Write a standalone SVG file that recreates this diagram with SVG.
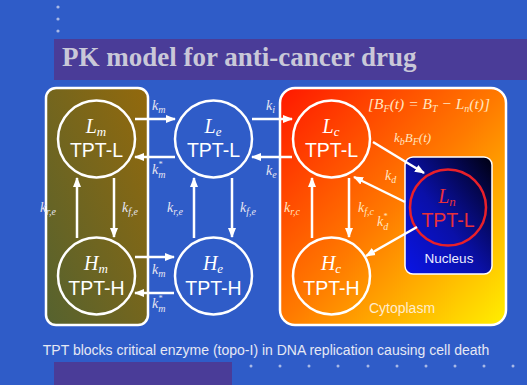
<svg xmlns="http://www.w3.org/2000/svg" width="527" height="385" viewBox="0 0 527 385">
<defs>
<linearGradient id="gOlive" x1="1" y1="0" x2="0" y2="1">
<stop offset="0" stop-color="#93690c"/>
<stop offset="1" stop-color="#55622f"/>
</linearGradient>
<linearGradient id="gCyto" x1="0" y1="0" x2="1" y2="1">
<stop offset="0" stop-color="#ff1800"/>
<stop offset="0.5" stop-color="#ff7a00"/>
<stop offset="1" stop-color="#fff000"/>
</linearGradient>
<linearGradient id="gNuc" x1="0" y1="1" x2="1" y2="0">
<stop offset="0" stop-color="#0a14e6"/>
<stop offset="0.45" stop-color="#0a10a8"/>
<stop offset="1" stop-color="#000010"/>
</linearGradient>
<marker id="ah" markerUnits="userSpaceOnUse" markerWidth="10" markerHeight="10" viewBox="0 0 10 10" refX="9" refY="5" orient="auto">
<path d="M0,1 L10,5 L0,9 Z" fill="#ffffff"/>
</marker>
<style>
.circ{fill:none;stroke:#ffffff;stroke-width:2.5}
.sym{font-family:"Liberation Serif",serif;font-style:italic;font-size:20px;fill:#ffffff;text-anchor:middle}
.tpt{font-family:"Liberation Sans",Arial,sans-serif;font-size:19.5px;fill:#ffffff;text-anchor:middle}
.lab{font-family:"Liberation Serif",serif;font-style:italic;font-size:14px;fill:#e6e6f2}
.labc{font-family:"Liberation Serif",serif;font-style:italic;font-size:14px;fill:#ffe6c0}
.sub{font-size:10px}
.sup{font-size:8px}
.arr{stroke:#ffffff;stroke-width:2.5;fill:none;marker-end:url(#ah)}
.dot{fill:#a9b9e6}
</style>
</defs>
<rect width="527" height="385" fill="#2f5cc8"/>
<circle class="dot" cx="58" cy="7" r="1.6"/>
<circle class="dot" cx="58" cy="19" r="1.6"/>
<circle class="dot" cx="58" cy="31" r="1.6"/>
<rect x="54" y="39" width="473" height="41" fill="#4a3c98"/>
<text x="62" y="66" font-family="Liberation Serif,serif" font-weight="bold" font-size="27" fill="#c9c8d8">PK model for anti-cancer drug</text>
<rect x="54" y="362" width="178" height="23" fill="#4a3c98"/>
<g>
<circle class="dot" cx="251" cy="366" r="1.5"/><circle class="dot" cx="280" cy="366" r="1.5"/><circle class="dot" cx="309" cy="366" r="1.5"/><circle class="dot" cx="338" cy="366" r="1.5"/><circle class="dot" cx="368" cy="366" r="1.5"/><circle class="dot" cx="397" cy="366" r="1.5"/><circle class="dot" cx="426" cy="366" r="1.5"/><circle class="dot" cx="455" cy="366" r="1.5"/><circle class="dot" cx="484" cy="366" r="1.5"/><circle class="dot" cx="513" cy="366" r="1.5"/>
</g>
<text x="266" y="355" font-family="Liberation Sans,Arial,sans-serif" font-size="14" fill="#e6e8f4" text-anchor="middle">TPT blocks critical enzyme (topo-I) in DNA replication causing cell death</text>

<g id="membrane">
<rect x="46" y="88" width="102" height="237" rx="10" fill="url(#gOlive)" stroke="#ffffff" stroke-width="2.5"/>
</g>
<g id="cytoplasm">
<rect x="280" y="88" width="226" height="237" rx="15" fill="url(#gCyto)" stroke="#ffffff" stroke-width="2.5"/>
<text x="402" y="313" font-family="Liberation Sans,Arial,sans-serif" font-size="14" fill="#ffeccc" text-anchor="middle">Cytoplasm</text>
<text x="368" y="109" class="labc" style="font-size:15.5px">[<tspan>B</tspan><tspan class="sub" dy="3">F</tspan><tspan dy="-3">(t) = B</tspan><tspan class="sub" dy="3">T</tspan><tspan dy="-3"> − L</tspan><tspan class="sub" dy="3">n</tspan><tspan dy="-3">(t)]</tspan></text>
</g>
<g id="nucleus">
<rect x="405" y="157" width="87" height="117" rx="8" fill="url(#gNuc)" stroke="#ffffff" stroke-width="1.5"/>
<text x="449" y="263" font-family="Liberation Sans,Arial,sans-serif" font-size="13.5" fill="#eeeeff" text-anchor="middle">Nucleus</text>
</g>

<g id="Lm">
<circle class="circ" cx="96.5" cy="139" r="38.5"/>
<text class="sym" x="96" y="133">L<tspan font-size="13" dy="3">m</tspan></text>
<text class="tpt" x="96.5" y="157">TPT-L</text>
</g>
<g id="Le">
<circle class="circ" cx="213.5" cy="139" r="38.5"/>
<text class="sym" x="213" y="133">L<tspan font-size="13" dy="3">e</tspan></text>
<text class="tpt" x="213.5" y="157">TPT-L</text>
</g>
<g id="Lc">
<circle class="circ" cx="331.5" cy="139" r="38.5"/>
<text class="sym" x="331" y="133">L<tspan font-size="13" dy="3">c</tspan></text>
<text class="tpt" x="331.5" y="157">TPT-L</text>
</g>
<g id="Hm">
<circle class="circ" cx="96.5" cy="276" r="38.5"/>
<text class="sym" x="96" y="270">H<tspan font-size="13" dy="3">m</tspan></text>
<text class="tpt" x="96.5" y="295">TPT-H</text>
</g>
<g id="He">
<circle class="circ" cx="213.5" cy="276" r="38.5"/>
<text class="sym" x="213" y="270">H<tspan font-size="13" dy="3">e</tspan></text>
<text class="tpt" x="213.5" y="295">TPT-H</text>
</g>
<g id="Hc">
<circle class="circ" cx="331.5" cy="276" r="38.5"/>
<text class="sym" x="331" y="270">H<tspan font-size="13" dy="3">c</tspan></text>
<text class="tpt" x="331.5" y="295">TPT-H</text>
</g>
<g id="Ln">
<circle cx="448" cy="207.5" r="38" fill="none" stroke="#e8202a" stroke-width="2.5"/>
<text class="sym" x="447" y="203" style="fill:#e8303a">L<tspan font-size="13" dy="3">n</tspan></text>
<text class="tpt" x="448" y="227" style="fill:#e8303a">TPT-L</text>
</g>

<g id="connectors">
<line class="arr" x1="135" y1="119" x2="175" y2="119"/>
<line class="arr" x1="175" y1="157" x2="135" y2="157"/>
<line class="arr" x1="252" y1="119" x2="292" y2="119"/>
<line class="arr" x1="292" y1="157" x2="252" y2="157"/>
<line class="arr" x1="135" y1="257" x2="174" y2="257"/>
<line class="arr" x1="174" y1="293" x2="135" y2="293"/>
<line class="arr" x1="77" y1="238" x2="77" y2="178"/>
<line class="arr" x1="114" y1="178" x2="114" y2="237"/>
<line class="arr" x1="194" y1="238" x2="194" y2="178"/>
<line class="arr" x1="232" y1="178" x2="232" y2="237"/>
<line class="arr" x1="312" y1="238" x2="312" y2="178"/>
<line class="arr" x1="349" y1="178" x2="349" y2="237"/>
<line class="arr" x1="373" y1="142" x2="424" y2="173"/>
<line class="arr" x1="405" y1="202" x2="354" y2="177"/>
<line class="arr" x1="417" y1="227" x2="366" y2="256"/>
<g id="labels">
<text class="lab" x="152" y="110">k<tspan class="sub" dy="3">m</tspan></text>
<text class="lab" x="152" y="174">k<tspan class="sup" dy="-7">*</tspan><tspan class="sub" dx="-4" dy="11">m</tspan></text>
<text class="lab" x="266" y="110">k<tspan class="sub" dy="3">i</tspan></text>
<text class="lab" x="266" y="175">k<tspan class="sub" dy="3">e</tspan></text>
<text class="lab" x="152" y="274">k<tspan class="sub" dy="3">m</tspan></text>
<text class="lab" x="152" y="308">k<tspan class="sup" dy="-7">*</tspan><tspan class="sub" dx="-4" dy="11">m</tspan></text>
<text class="lab" x="40" y="212">k<tspan class="sub" dy="3">r,e</tspan></text>
<text class="lab" x="122" y="212">k<tspan class="sub" dy="3">f,e</tspan></text>
<text class="lab" x="167" y="212">k<tspan class="sub" dy="3">r,e</tspan></text>
<text class="lab" x="240" y="212">k<tspan class="sub" dy="3">f,e</tspan></text>
<text class="labc" x="284" y="212">k<tspan class="sub" dy="3">r,c</tspan></text>
<text class="labc" x="358" y="212">k<tspan class="sub" dy="3">f,c</tspan></text>
<text class="labc" x="385" y="180">k<tspan class="sub" dy="3">d</tspan></text>
<text class="labc" x="377" y="226">k<tspan class="sup" dy="-7">*</tspan><tspan class="sub" dx="-4" dy="11">d</tspan></text>
<text class="labc" x="394" y="142" style="font-size:13px">k<tspan class="sub" dy="3">b</tspan><tspan dy="-3">B</tspan><tspan class="sub" dy="3">F</tspan><tspan dy="-3">(t)</tspan></text>
</g>
</g>
</svg>
